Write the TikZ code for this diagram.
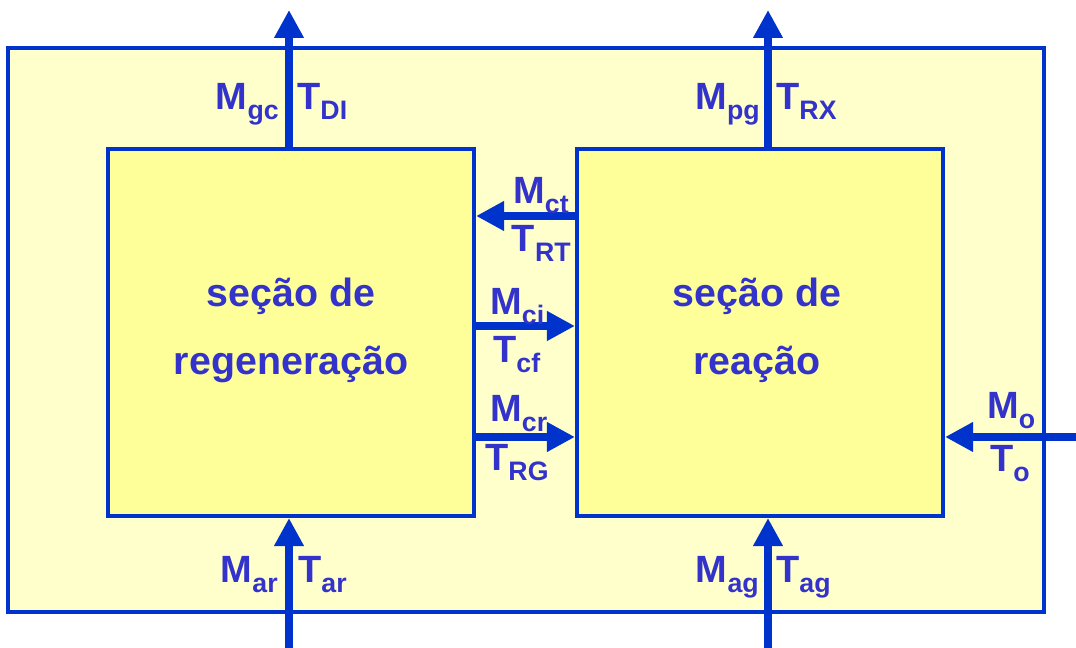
\documentclass[tikz,border=0pt]{standalone}
\usepackage{fontspec}
\setmainfont{Liberation Sans}
\usetikzlibrary{arrows.meta,positioning,calc}
\definecolor{lineblue}{RGB}{0,51,204}
\definecolor{txtblue}{RGB}{51,51,204}
\definecolor{paleyel}{RGB}{255,255,204}
\definecolor{boxyel}{RGB}{255,255,153}
\newcommand{\flux}[2]{#1\raisebox{-6.5pt}{\fontsize{19}{20}\selectfont #2}}

\begin{document}
\begin{tikzpicture}[x=0.025cm,y=0.025cm,
  plant/.style={draw=lineblue,line width=0.1cm,fill=paleyel,minimum width=25.9cm,minimum height=14.1cm,inner sep=0},
  sect/.style={draw=lineblue,line width=0.1cm,fill=boxyel,minimum width=9.15cm,minimum height=9.175cm},
  title/.style={align=center,text=txtblue,font=\bfseries\fontsize{28}{48.5}\selectfont},
  lab/.style={inner sep=0,text=txtblue,font=\bfseries\fontsize{27}{30}\selectfont},
  flow/.style={-{Triangle[length=0.7cm,width=0.7cm]},draw=lineblue,line width=0.2cm}]
\useasboundingbox (0,0) rectangle (1076,648);
\node[plant](plant) at (526,318){};
\node[sect](reg) at (291,315.5){};
\node[sect](rea) at (760,315.5){};
\node[title](regtxt) at ($(reg.center)+(0,2)$){seção de\\regeneração};
\node[title](reatxt) at ($(rea.center)+(-3,2)$){seção de\\reação};
% free ends of the streams
\coordinate (gcout) at (289,638);
\coordinate (pgout) at (768,638);
\coordinate (arin) at (289,0);
\coordinate (agin) at (768,0);
\coordinate (oin) at (1076,211);
\coordinate (ct) at (0,432);
\coordinate (ci) at (0,322);
\coordinate (cr) at (0,211);
\draw[flow](reg.north -| gcout)--(gcout);
\draw[flow](rea.north -| pgout)--(pgout);
\draw[flow](arin)--(arin |- reg.south);
\draw[flow](agin)--(agin |- rea.south);
\draw[flow](oin)--(oin -| rea.east);
\draw[flow](rea.west |- ct)--(reg.east |- ct);
\draw[flow](reg.east |- ci)--(rea.west |- ci);
\draw[flow](reg.east |- cr)--(rea.west |- cr);
% labels
\node[lab,anchor=base east](mgc) at (279,538){\flux{M}{gc}};
\node[lab,anchor=base west](tdi) at (297,538){\flux{T}{DI}};
\node[lab,anchor=base east](mpg) at (760,538){\flux{M}{pg}};
\node[lab,anchor=base west](trx) at (776,538){\flux{T}{RX}};
\node[lab,anchor=base east](mar) at (278,65){\flux{M}{ar}};
\node[lab,anchor=base west](tar) at (298,65){\flux{T}{ar}};
\node[lab,anchor=base east](mag) at (759,65){\flux{M}{ag}};
\node[lab,anchor=base west](tag) at (776,65){\flux{T}{ag}};
\node[lab,anchor=base east](mct) at (569,444){\flux{M}{ct}};
\node[lab,anchor=base east](trt) at (571,396){\flux{T}{RT}};
\node[lab,anchor=base west](mci) at (490,333){\flux{M}{ci}};
\node[lab,anchor=base west](tcf) at (493,285){\flux{T}{cf}};
\node[lab,anchor=base west](mcr) at (490,226){\flux{M}{cr}};
\node[lab,anchor=base west](trg) at (485,177){\flux{T}{RG}};
\node[lab,anchor=base west](mo) at (987,229){\flux{M}{o}};
\node[lab,anchor=base west](to) at (990,176){\flux{T}{o}};
\end{tikzpicture}
\end{document}
